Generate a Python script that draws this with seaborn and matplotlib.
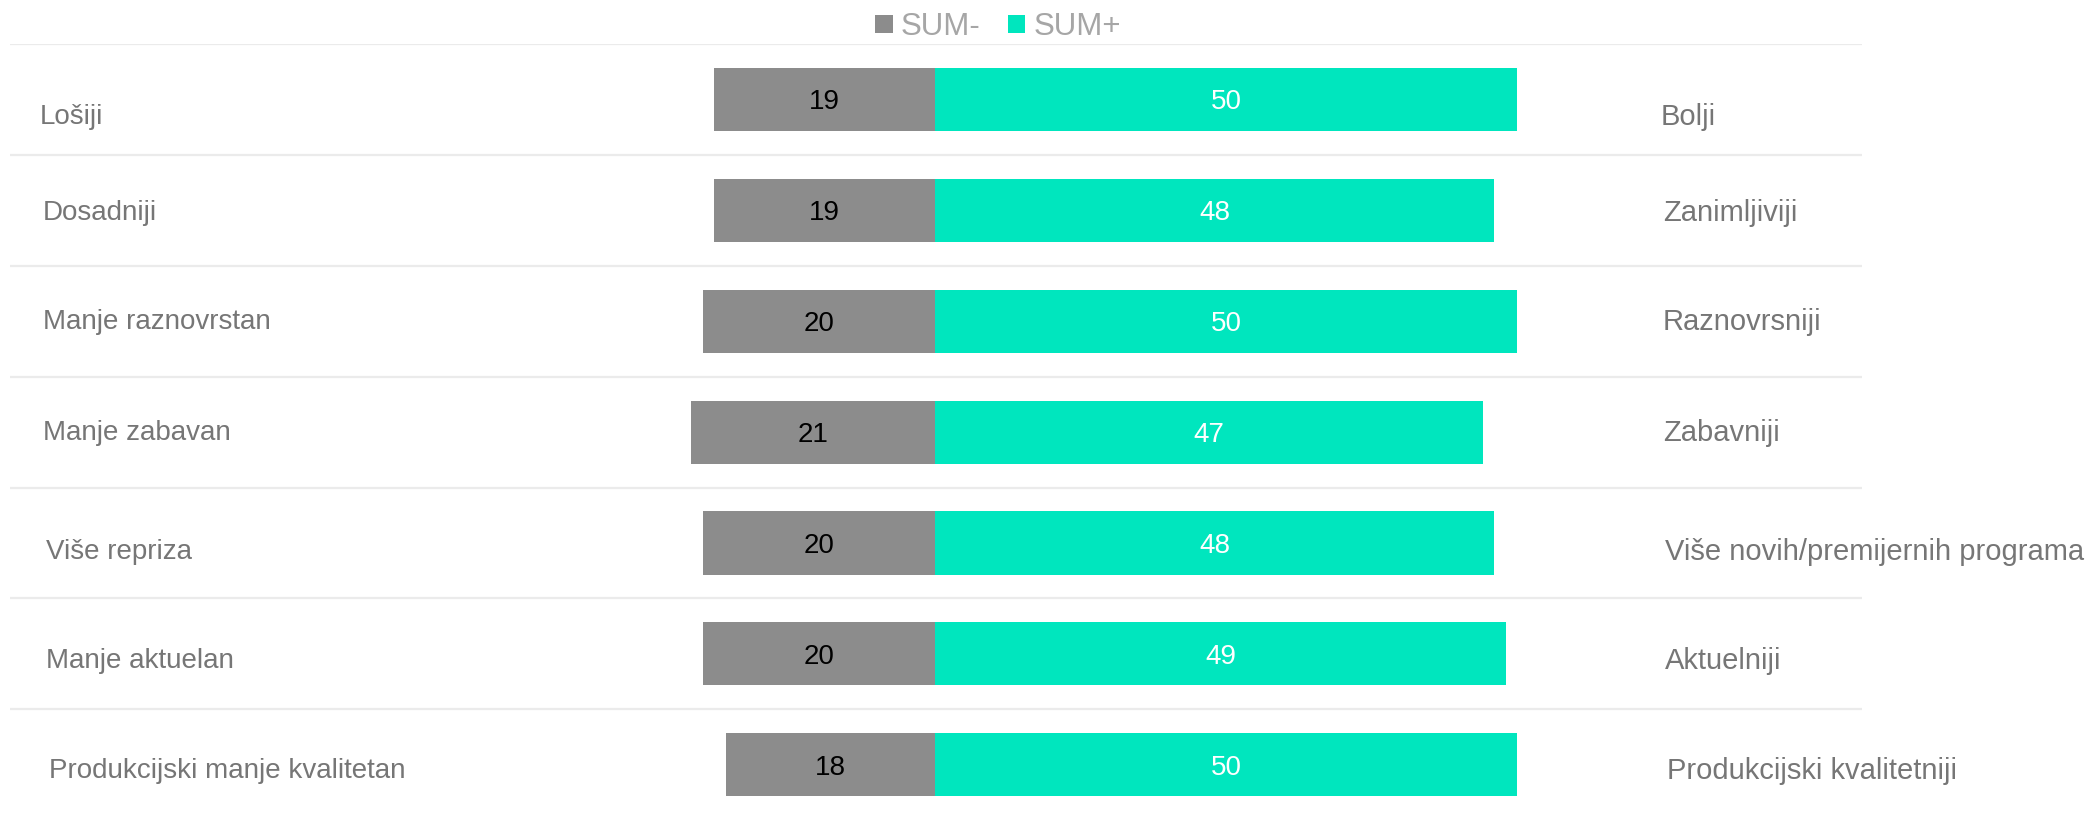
import pandas as pd
import numpy as np
import matplotlib.pyplot as plt
import matplotlib.transforms as mtrans
import seaborn as sns

# data
left_labels = ["Lošiji", "Dosadniji", "Manje raznovrstan", "Manje zabavan",
               "Više repriza", "Manje aktuelan", "Produkcijski manje kvalitetan"]
right_labels = ["Bolji", "Zanimljiviji", "Raznovrsniji", "Zabavniji",
                "Više novih/premijernih programa", "Aktuelniji", "Produkcijski kvalitetniji"]
sum_minus = [19, 19, 20, 21, 20, 20, 18]
sum_plus = [50, 48, 50, 47, 48, 49, 50]
series = ["SUM-", "SUM+"]

# small label nudges (row units / axes fraction), layout only
label_dy = [0.16, 0.02, 0.01, 0.01, 0.08, 0.06, 0.06]
label_dx = [0.0, 0.0015, 0.0015, 0.0015, 0.0035, 0.0035, 0.005]

sns.set_theme(style="white")
plt.rcParams["font.family"] = ["Liberation Sans", "DejaVu Sans"]

df = pd.DataFrame({
    "row": left_labels * 2,
    "value": [-v for v in sum_minus] + sum_plus,
    "series": [series[0]] * len(sum_minus) + [series[1]] * len(sum_plus),
})

W, H = 2092, 818
fig = plt.figure(figsize=(W / 100, H / 100), dpi=100)
ax = fig.add_axes([10 / W, 0, 1852 / W, 774 / H])

pal = {"SUM-": "#8C8C8C", "SUM+": "#00E6BE"}
sns.barplot(data=df, x="value", y="row", hue="series", palette=pal,
            dodge=False, width=0.57, orient="h", ax=ax, saturation=1, linewidth=0)

ax.set_xlim(-79.5, 79.6)
ax.set_ylim(6.48, -0.5)
ax.hlines(np.arange(len(left_labels)) - 0.5, -79.5, 79.6, color="#EBEBEB", lw=1.6, zorder=0)

# value labels, centred on the bar middle by baseline like the reference
t_minus = ax.bar_label(ax.containers[0], labels=[str(v) for v in sum_minus],
                       label_type="center", color="black", fontsize=20)
t_plus = ax.bar_label(ax.containers[1], labels=[str(v) for v in sum_plus],
                      label_type="center", color="white", fontsize=20)
for t in list(t_minus) + list(t_plus):
    t.set_va("center_baseline")

trans = mtrans.blended_transform_factory(ax.transAxes, ax.transData)
for i, (ll, rl) in enumerate(zip(left_labels, right_labels)):
    ax.text(0.0162 + label_dx[i], i + label_dy[i], ll, transform=trans,
            ha="left", va="center", fontsize=20, color="#767676", clip_on=False)
    ax.text(0.8915 + label_dx[i] * 0.6, i + label_dy[i], rl, transform=trans,
            ha="left", va="center", fontsize=21, color="#767676", clip_on=False)

ax.set(xticks=[], yticks=[], xlabel="", ylabel="")
sns.despine(ax=ax, left=True, bottom=True)

sns.move_legend(ax, "center", bbox_to_anchor=(998 / W, 1 - 27 / H),
                bbox_transform=fig.transFigure, ncol=2, frameon=False, title=None,
                fontsize=22.5, handlelength=0.55, handleheight=0.55,
                handletextpad=0.25, columnspacing=0.9, labelcolor="#A6A6A6",
                borderaxespad=0, borderpad=0)

fig.savefig("out.png", dpi=100)
